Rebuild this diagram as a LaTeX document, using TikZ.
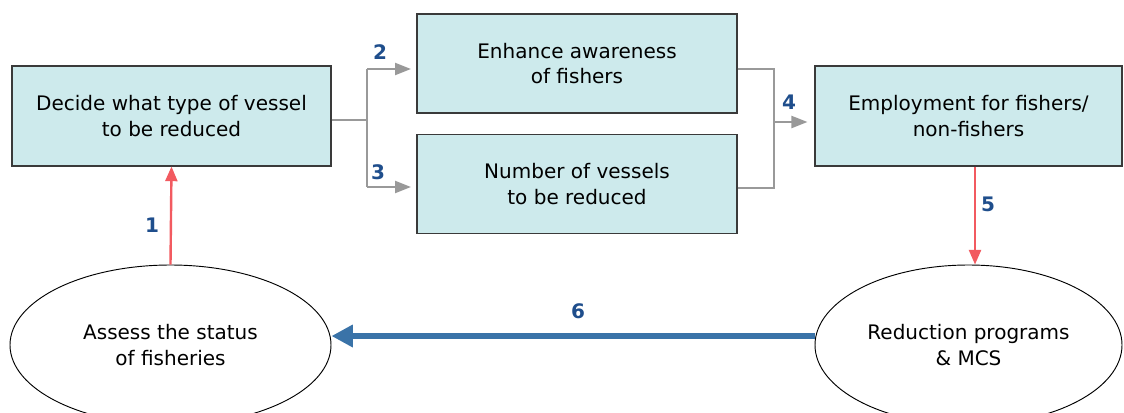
\documentclass[tikz,border=0pt]{standalone}
\usepackage{fontspec}
\setmainfont{DejaVu Sans}
\usetikzlibrary{arrows.meta,shapes.geometric,calc}
\definecolor{boxfill}{HTML}{CDEAEC}
\definecolor{boxdraw}{HTML}{3A3A3A}
\definecolor{linegray}{HTML}{999999}
\definecolor{redarr}{HTML}{F25A60}
\definecolor{numblue}{HTML}{1F4E8C}
\definecolor{bluearr}{HTML}{3A73A8}
\tikzset{
  stepbox/.style={draw=boxdraw,line width=0.8pt,fill=boxfill,inner sep=0pt,
    align=center,font=\fontsize{15pt}{19pt}\selectfont},
  oval/.style={ellipse,draw=black,line width=0.7pt,fill=white,inner sep=0pt,
    align=center,font=\fontsize{15pt}{19pt}\selectfont},
  grayline/.style={draw=linegray,line width=1.6pt},
  grayarr/.style={grayline,-{Triangle[length=12pt,width=9pt]}},
  redline/.style={draw=redarr,line width=1.8pt,-{Triangle[length=11pt,width=9pt]}},
  bluearrow/.style={draw=bluearr,line width=4.5pt,-{Triangle[length=16pt,width=16pt]}},
  numlabel/.style={text=numblue,font=\fontsize{15pt}{17pt}\selectfont\bfseries}
}
\begin{document}
\begin{tikzpicture}[x=0.75pt,y=-0.75pt]
\useasboundingbox (0,0) rectangle (1124,412);
\clip (0,0) rectangle (1124,412);
\node[stepbox,minimum width=239.25pt,minimum height=75pt] (A) at (171.5,116) {Decide what type of vessel\\to be reduced};
\node[stepbox,minimum width=240pt,minimum height=74.25pt] (B) at (577,63.5) {Enhance awareness\\of fishers};
\node[stepbox,minimum width=240pt,minimum height=74.25pt] (C) at (577,184) {Number of vessels\\to be reduced};
\node[stepbox,minimum width=230.25pt,minimum height=75pt] (D) at (968.5,116) {Employment for fishers/\\non-fishers};
\node[oval,minimum width=240.75pt,minimum height=120pt] (E) at (170.5,345) {Assess the status\\of fisheries};
\node[oval,minimum width=230.25pt,minimum height=120pt] (F) at (968.5,345) {Reduction programs\\\& MCS};
% left fork
\coordinate (j1) at (367,120);
\coordinate (j1t) at (367,69);
\coordinate (j1b) at (367,187);
\draw[grayline] (A.east |- j1) -- (j1);
\draw[grayline] (j1t) -- (j1b);
\draw[grayarr] (j1t) -- (411,69) coordinate (bt);
\draw[grayarr] (j1b) -- (411,187) coordinate (cb);
% right join
\coordinate (j2t) at (774,69);
\coordinate (j2b) at (774,188);
\coordinate (j2m) at (774,122);
\draw[grayline] (B.east |- j2t) -- (j2t) -- (j2b) -- (C.east |- j2b);
\draw[grayarr] (j2m) -- ([xshift=-5.25pt]D.west |- j2m);
% red arrows
\draw[redline] (E.north) -- (A.south);
\draw[redline] (D.south -| 975,0) -- (F.north -| 975,0);
% blue arrow
\draw[bluearrow] (F.west |- 0,336) -- (E.east |- 0,336);
% labels
\node[numlabel] (n1) at (152,225) {1};
\node[numlabel] (n2) at (380,52) {2};
\node[numlabel] (n3) at (378,172) {3};
\node[numlabel] (n4) at (789,102) {4};
\node[numlabel] (n5) at (988,204) {5};
\node[numlabel] (n6) at (578,311) {6};
\end{tikzpicture}
\end{document}
